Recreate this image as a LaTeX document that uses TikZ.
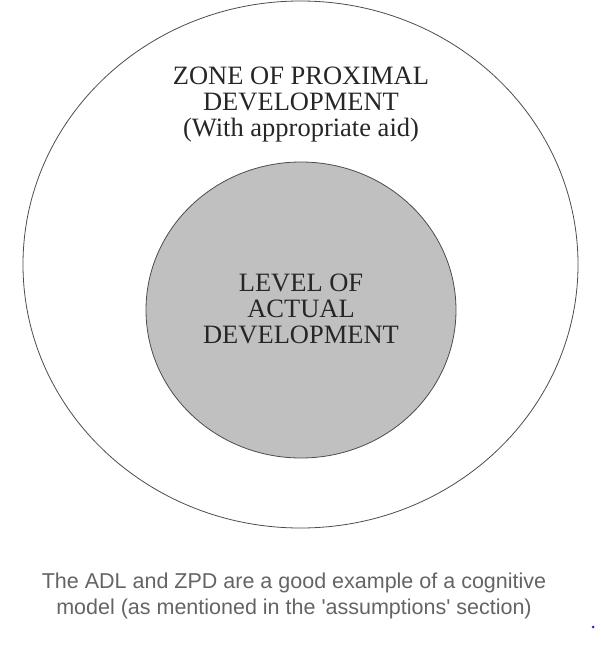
\documentclass[tikz,border=0pt]{standalone}
\usepackage{fontspec}
\setmainfont{Liberation Serif}
\newfontfamily\capfont{Liberation Sans}
\usetikzlibrary{shapes.geometric}
\definecolor{adlgray}{RGB}{192,192,192}
\definecolor{capgray}{RGB}{100,100,100}
\definecolor{dotblue}{RGB}{40,40,220}
\begin{document}
\begin{tikzpicture}[x=1pt, y=-1pt, thin,
    zone/.style={draw=black!70, line width=0.8pt, ellipse, inner sep=0pt},
    zonetext/.style={align=center, font=\fontsize{26.5}{26}\selectfont, text=black!85}]
    \useasboundingbox (0,0) rectangle (600,650);
    % outer zone (ZPD)
    \node[zone, minimum width=555pt, minimum height=527pt] (zpd) at (300.5,264.5) {};
    \node[zonetext] (zpdtext) at (301,105) {ZONE OF PROXIMAL\\DEVELOPMENT\\(With appropriate aid)};
    % inner zone (ADL)
    \node[zone, fill=adlgray, minimum width=310pt, minimum height=296pt] (adl) at (301,310) {};
    \node[zonetext, yshift=1pt] (adltext) at (adl.center) {LEVEL OF\\ACTUAL\\DEVELOPMENT};
    % caption
    \node[align=center, text=capgray, font=\capfont\fontsize{21.5}{26}\selectfont] (caption) at (294,596)
        {The ADL and ZPD are a good example of a cognitive\\model (as mentioned in the 'assumptions' section)};
    \fill[dotblue] (593,627) circle (1.5);
\end{tikzpicture}
\end{document}
